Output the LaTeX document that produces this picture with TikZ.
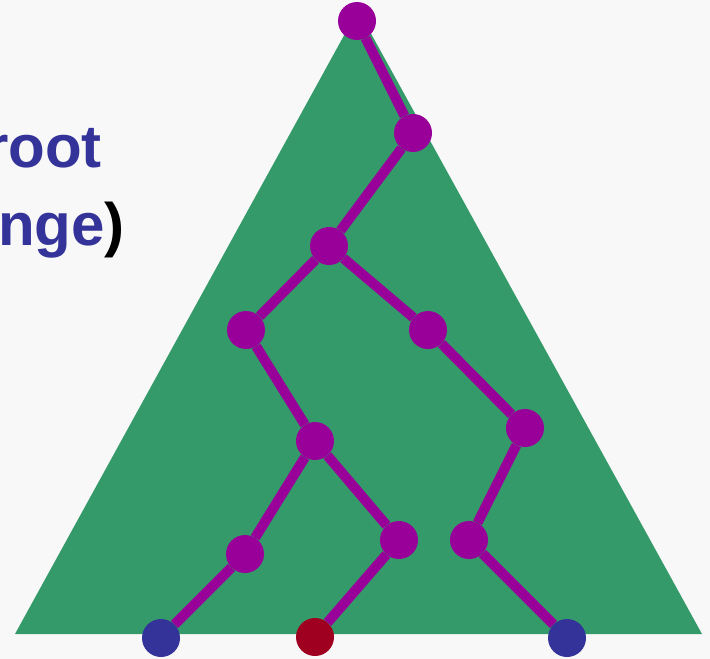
\documentclass[tikz,border=0pt]{standalone}
\usepackage{fontspec}
\setmainfont{Liberation Sans}
\definecolor{bgc}{HTML}{F8F8F8}
\definecolor{treegreen}{HTML}{359A6A}
\definecolor{nodepurple}{HTML}{990099}
\definecolor{leafblue}{HTML}{333399}
\definecolor{leafred}{HTML}{A00020}
\begin{document}
\begin{tikzpicture}[x=1pt,y=-1pt,
  inner/.style={circle,fill=nodepurple,minimum size=38pt,inner sep=0pt},
  bleaf/.style={circle,fill=leafblue,minimum size=38pt,inner sep=0pt},
  rleaf/.style={circle,fill=leafred,minimum size=38pt,inner sep=0pt},
  edge/.style={draw=nodepurple,line width=10pt},
  lbl/.style={font=\fontsize{60}{66}\selectfont\bfseries,text=leafblue,inner sep=0pt,anchor=base east}]
\fill[bgc] (0,0) rectangle (710,659);
\useasboundingbox (0,0) rectangle (710,659);
\fill[treegreen] (358,10) -- (702,634) -- (15,634) -- cycle;
\node[lbl] (t1) at (102,167) {root};
\node[lbl] (t2) at (125,245) {nge\textcolor{black}{)}};
\node[inner] (a) at (357,21) {};
\node[inner] (b) at (413,133) {};
\node[inner] (c) at (329,246) {};
\node[inner] (d) at (246,330) {};
\node[inner] (e) at (428,330) {};
\node[inner] (f) at (315,441) {};
\node[inner] (g) at (525,428) {};
\node[inner] (h) at (245,554) {};
\node[inner] (i) at (399,540) {};
\node[inner] (j) at (469,540) {};
\node[bleaf] (k) at (161,638) {};
\node[rleaf] (l) at (315,637) {};
\node[bleaf] (m) at (567,638) {};
\draw[edge] (a) -- (b);
\draw[edge] (b) -- (c);
\draw[edge] (c) -- (d);
\draw[edge] (c) -- (e);
\draw[edge] (d) -- (f);
\draw[edge] (e) -- (g);
\draw[edge] (f) -- (h);
\draw[edge] (f) -- (i);
\draw[edge] (g) -- (j);
\draw[edge] (h) -- (k);
\draw[edge] (i) -- (l);
\draw[edge] (j) -- (m);
\end{tikzpicture}
\end{document}
